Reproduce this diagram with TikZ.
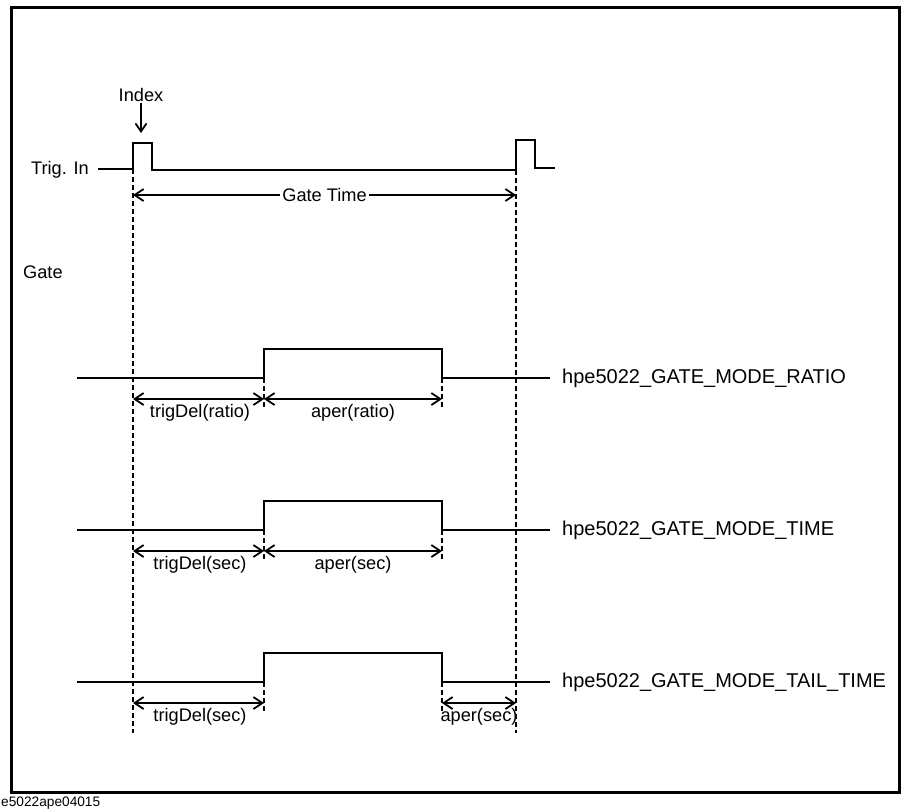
\documentclass[tikz,border=0pt]{standalone}
\usepackage{fontspec}
\setmainfont{Liberation Sans}
\usetikzlibrary{arrows.meta}
\begin{document}
\begin{tikzpicture}[x=1pt,y=-1pt,
 sig/.style={line width=2.2pt},
 dimline/.style={line width=1.8pt,{Straight Barb[length=9pt,width=12pt,line width=1.8pt]}-{Straight Barb[length=9pt,width=12pt,line width=1.8pt]}},
 guide/.style={line width=1.8pt,dash pattern=on 5pt off 3pt},
 lbl/.style={font=\fontsize{18.2}{21}\selectfont,inner sep=1pt},
 mode/.style={font=\fontsize{20}{23}\selectfont,anchor=west,inner sep=0pt}]
\useasboundingbox (0,0) rectangle (901,809);
\draw[line width=3pt] (11,7) rectangle (899,792);
\node[font=\fontsize{13.7}{15}\selectfont,anchor=base west,inner sep=0pt] (cap) at (1,806) {e5022ape04015};

% Trig. In
\node[lbl,anchor=east] (trig) at (90,170) {Trig. In};
\coordinate (t0) at (98,169);
\coordinate (a0) at (133,169);
\coordinate (b0) at (516,170);
\draw[sig] (t0) -- (a0) -- (133,143) -- (152,143) -- (152,170) -- (b0) -- (516,140) -- (535,140) -- (535,168) -- (555,168);

% Index
\node[lbl] (index) at (141,95) {Index};
\coordinate (idx) at (141,133);
\draw[line width=1.8pt,-{Straight Barb[length=8pt,width=11pt,line width=1.8pt]}] (index.south) -- (idx);

% long guides
\coordinate (aend) at (133,733);
\coordinate (bend) at (516,733);
\draw[guide] (a0) -- (aend);
\draw[guide] (b0) -- (bend);

% Gate Time
\coordinate (g1) at (133,195);
\coordinate (g2) at (516,195);
\draw[dimline] (g1) -- (g2) node[midway,fill=white,lbl,inner xsep=2pt] (gt) {Gate Time};

\node[lbl,anchor=west] (gate) at (22,272) {Gate};

% rows
\foreach \lo/\hi/\ar/\lb/\se/\name/\td/\ap/\tail in {
   378/349/399/413/408/hpe5022\_GATE\_MODE\_RATIO/trigDel(ratio)/aper(ratio)/0,
   530/501/551/565/560/hpe5022\_GATE\_MODE\_TIME/trigDel(sec)/aper(sec)/0,
   682/653/703/717/713/hpe5022\_GATE\_MODE\_TAIL\_TIME/trigDel(sec)/aper(sec)/1}{
  \coordinate (s0) at (77,\lo);
  \coordinate (s1) at (264,\lo);
  \coordinate (s2) at (442,\lo);
  \coordinate (s3) at (550,\lo);
  \draw[sig] (s0) -- (s1) -- (264,\hi) -- (442,\hi) -- (s2) -- (s3);
  \node[mode] (m) at (562,\lo) {\name};
  \coordinate (e1) at (264,\se);
  \coordinate (e2) at (442,\se);
  \draw[guide] (s1) -- (e1);
  \draw[guide] (s2) -- (e2);
  \coordinate (d0) at (133,\ar);
  \coordinate (d1) at (264,\ar);
  \coordinate (d2) at (442,\ar);
  \coordinate (d3) at (516,\ar);
  \draw[dimline] (d0) -- (d1);
  \node[lbl] (ltd) at (200,\lb) {\td};
  \ifnum\tail=0
    \draw[dimline] (d1) -- (d2);
    \node[lbl] (lap) at (353,\lb) {\ap};
  \else
    \draw[dimline] (d2) -- (d3);
    \node[lbl] (lap) at (479,\lb) {\ap};
  \fi
}
\end{tikzpicture}
\end{document}
